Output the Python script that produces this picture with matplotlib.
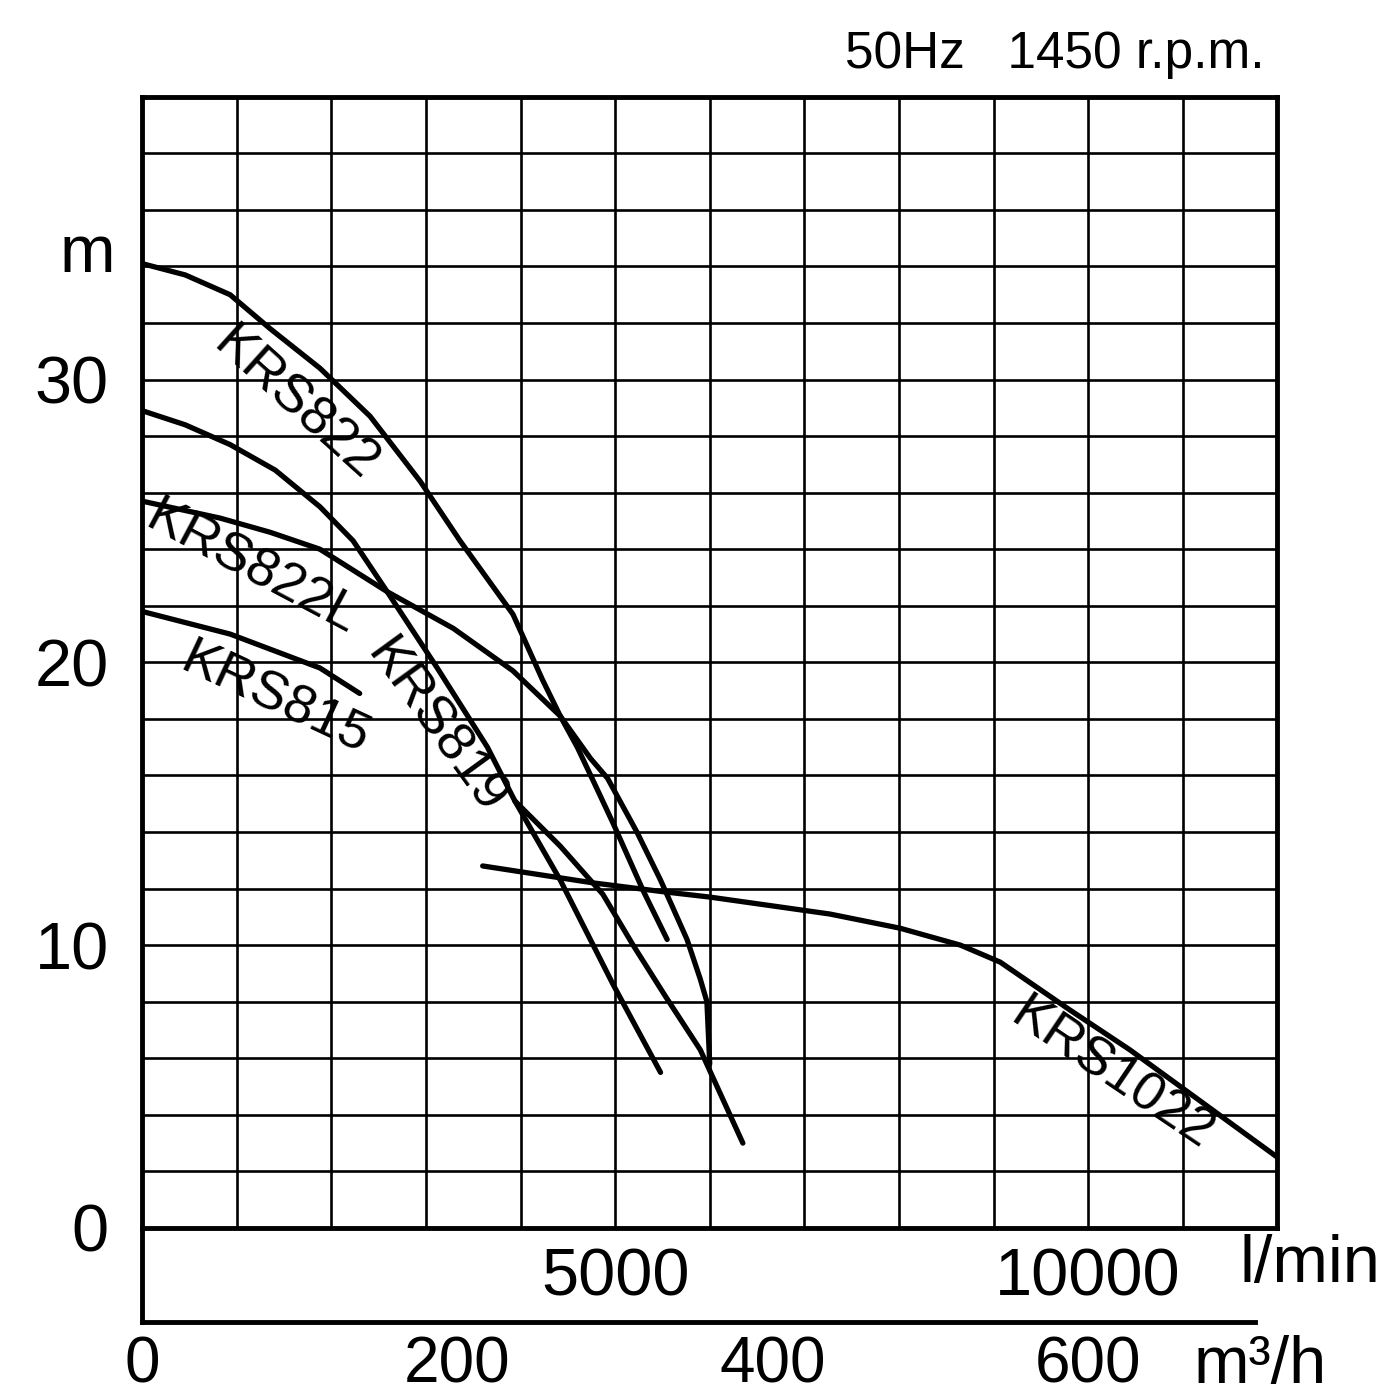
import matplotlib
matplotlib.use("Agg")
import matplotlib.pyplot as plt
import matplotlib.transforms as mtransforms
import numpy as np

plt.rcParams['font.family'] = ['Liberation Sans', 'DejaVu Sans']

# flow in l/min, head in m
krs822_q = [0, 455, 930, 1353, 1880, 2410, 2940, 3360, 3920, 4230, 4420, 4600, 4770, 4980, 5300, 5550]
krs822_h = [34.1, 33.7, 33.0, 31.8, 30.4, 28.7, 26.4, 24.3, 21.7, 19.4, 18.1, 17.0, 15.8, 14.3, 11.9, 10.2]

krs822l_q = [0, 825, 1353, 1880, 2590, 3290, 3920, 4420, 4740, 4920, 5230, 5480, 5760, 5900, 5970, 6000]
krs822l_h = [25.7, 25.1, 24.6, 24.0, 22.5, 21.2, 19.7, 18.1, 16.6, 15.9, 14.0, 12.3, 10.2, 8.8, 8.0, 5.8]

krs819_q = [0, 455, 930, 1406, 1880, 2230, 2590, 3120, 3650, 3940, 4420, 4870, 5190, 5530, 5900, 6350]
krs819_h = [28.9, 28.4, 27.7, 26.8, 25.5, 24.3, 22.5, 19.8, 17.0, 15.1, 13.5, 11.8, 10.0, 8.2, 6.3, 3.0]

# second branch that leaves the KRS819 line
krs819b_q = [3940, 4420, 4980, 5480]
krs819b_h = [15.1, 12.3, 8.6, 5.5]

krs815_q = [0, 930, 1880, 2300]
krs815_h = [21.8, 21.0, 19.8, 18.9]

krs1022_q = [3600, 4770, 5480, 6000, 6530, 7270, 8010, 8650, 9070, 9810, 10440, 11180, 12000]
krs1022_h = [12.8, 12.2, 11.9, 11.7, 11.45, 11.1, 10.6, 10.0, 9.4, 7.7, 6.3, 4.5, 2.5]

# curve labels: text, flow, head, angle
curve_labels = [
    ("KRS822", 1617, 29.1, -42),
    ("KRS822L", 1163, 23.3, -28),
    ("KRS815", 1406, 18.7, -25),
    ("KRS819", 3097, 17.7, -54),
    ("KRS1022", 10254, 5.4, -34),
]

y_labels = [0, 10, 20, 30]
lpm_labels = [5000, 10000]
m3h_labels = [0, 200, 400, 600]

fig = plt.figure(figsize=(13.93, 14.0), dpi=100)
ax = fig.add_axes([0.102, 0.1229, 0.815, 0.808])

ax.set_xlim(0, 12000)
ax.set_ylim(0, 40)

ax.set_xticks(np.arange(0, 12001, 1000))
ax.set_xticklabels([str(v) if v in lpm_labels else '' for v in range(0, 12001, 1000)])
ax.set_yticks(np.arange(0, 41, 2))
ax.set_yticklabels([str(v) if v in y_labels else '' for v in range(0, 41, 2)])
ax.tick_params(axis='both', length=0, labelsize=48)
ax.tick_params(axis='y', pad=24)
ax.tick_params(axis='x', pad=14)
ax.grid(True, color='black', linewidth=1.9)

for s in ax.spines.values():
    s.set_linewidth(3.5)

for q, h in [(krs822_q, krs822_h), (krs822l_q, krs822l_h), (krs819_q, krs819_h),
             (krs819b_q, krs819b_h), (krs815_q, krs815_h), (krs1022_q, krs1022_h)]:
    ax.plot(q, h, color='black', linewidth=3.8, solid_capstyle='round',
            solid_joinstyle='round', zorder=3)

for txt, q, h, ang in curve_labels:
    ax.text(q, h, txt, fontsize=39, rotation=ang, rotation_mode='anchor',
            ha='center', va='center', zorder=4)

ybl = mtransforms.blended_transform_factory(ax.transAxes, ax.transData)
ax.text(-0.024, 34.4, 'm', transform=ybl, fontsize=48, ha='right', va='center')

# second flow scale in m3/h
sec = ax.secondary_xaxis(-0.083, functions=(lambda q: q * 0.06, lambda m: m / 0.06))
sec.set_xticks(m3h_labels)
sec.set_xticklabels([str(v) for v in m3h_labels])
sec.tick_params(length=0, labelsize=46, pad=10)
sec.spines['bottom'].set_linewidth(3.5)
sec.spines['bottom'].set_bounds(0, 706)

ax.plot([0, 0], [-0.083, 0], transform=ax.transAxes, color='black',
        linewidth=3.5, clip_on=False)

ax.text(0.967, -0.033, 'l/min', transform=ax.transAxes, fontsize=48,
        ha='left', va='center')
ax.text(0.926, -0.122, 'm³/h', transform=ax.transAxes, fontsize=48,
        ha='left', va='center')
ax.text(0.989, 1.037, '50Hz   1450 r.p.m.', transform=ax.transAxes, fontsize=37,
        ha='right', va='center')

fig.savefig('out.png', dpi=100)
